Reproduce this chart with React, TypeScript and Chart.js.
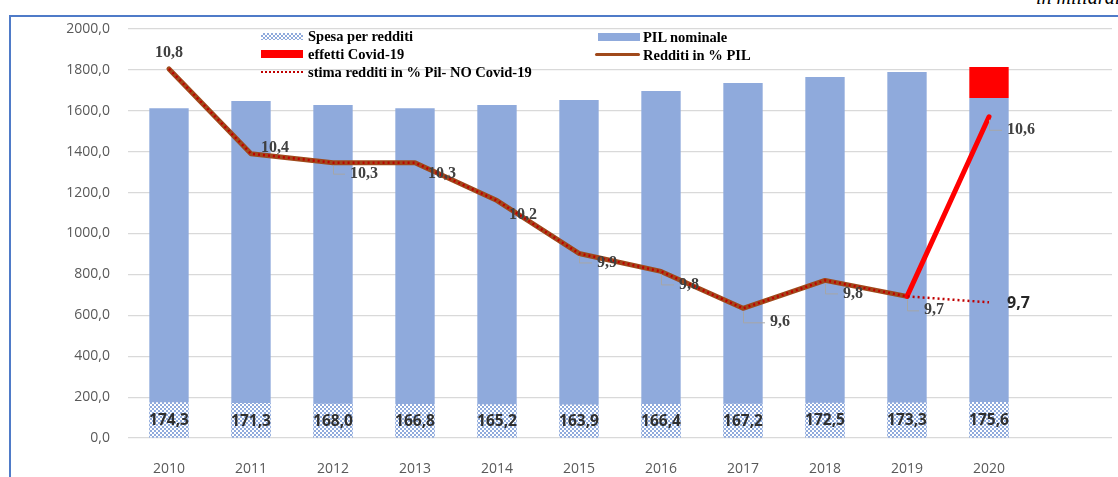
import React, { useEffect, useRef } from 'react';
import { Chart, registerables } from 'chart.js';

Chart.register(...registerables);

// ---------- data ----------
const years = ['2010', '2011', '2012', '2013', '2014', '2015', '2016', '2017', '2018', '2019', '2020', ''];
const pilNominale = [1613, 1648, 1628, 1613, 1628, 1653, 1697, 1736, 1765, 1790, 1663];
const effettiCovid = [0, 0, 0, 0, 0, 0, 0, 0, 0, 0, 151];
const spesaRedditi = [174.3, 171.3, 168.0, 166.8, 165.2, 163.9, 166.4, 167.2, 172.5, 173.3, 175.6];
const redditiPctPil = [10.8, 10.375, 10.33, 10.33, 10.14, 9.875, 9.785, 9.6, 9.74, 9.66, 10.56];
const redditiLabels = ['10,8', '10,4', '10,3', '10,3', '10,2', '9,9', '9,8', '9,6', '9,8', '9,7', '10,6'];
const stimaNoCovid2020 = 9.63;
const stimaLabel = '9,7';
const yTicks = [0, 200, 400, 600, 800, 1000, 1200, 1400, 1600, 1800, 2000];

// ---------- label layout (px offsets from point) ----------
const labelOffsets: [number, number, string, boolean][] = [
  [0, -16, 'center', false],
  [10, -6, 'left', false],
  [17, 11, 'left', true],
  [13, 11, 'left', false],
  [12, 14, 'left', false],
  [18, 9, 'left', true],
  [18, 13, 'left', true],
  [27, 14, 'left', true],
  [18, 13, 'left', true],
  [17, 14, 'left', true],
  [18, 13, 'left', true],
];

const BLUE = '#8FAADC';
const BROWN = '#A0491B';
const fmt = (v: number) => v.toFixed(1).replace('.', ',');

const labelPlugin = {
  id: 'customLabels',
  afterDatasetsDraw(chart: any) {
    const ctx = chart.ctx;
    ctx.save();
    // spesa labels
    const spesaMeta = chart.getDatasetMeta(2);
    ctx.font = 'bold 15.5px "Open Sans"';
    ctx.fillStyle = '#2F2F2F';
    ctx.textAlign = 'center';
    ctx.textBaseline = 'middle';
    spesaMeta.data.forEach((bar: any, i: number) => {
      const p = bar.getProps(['x', 'y', 'base'], true);
      ctx.fillText(fmt(spesaRedditi[i]), p.x, (p.y + p.base) / 2 + 1);
    });
    // line labels
    const lineMeta = chart.getDatasetMeta(1);
    ctx.font = 'bold 16px "Liberation Serif"';
    lineMeta.data.forEach((pt: any, i: number) => {
      const [dx, dy, align, leader] = labelOffsets[i];
      const lx = pt.x + dx;
      const ly = pt.y + dy;
      if (leader) {
        ctx.strokeStyle = '#A6A6A6';
        ctx.lineWidth = 1;
        ctx.beginPath();
        ctx.moveTo(pt.x + 0.5, pt.y + 3);
        ctx.lineTo(pt.x + 0.5, ly + 0.5);
        ctx.lineTo(lx - 5, ly + 0.5);
        ctx.stroke();
      }
      ctx.fillStyle = '#404040';
      ctx.textAlign = align;
      ctx.fillText(redditiLabels[i], lx, ly);
    });
    // stima label
    const stimaMeta = chart.getDatasetMeta(0);
    const last = stimaMeta.data[10];
    ctx.font = 'bold 16px "Open Sans"';
    ctx.fillStyle = '#262626';
    ctx.textAlign = 'left';
    ctx.fillText(stimaLabel, last.x + 18, last.y + 1);
    ctx.restore();
  },
};

export default function App() {
  const ref = useRef<HTMLCanvasElement>(null);

  useEffect(() => {
    const canvas = ref.current!;
    const pc = document.createElement('canvas');
    pc.width = 4;
    pc.height = 4;
    const g = pc.getContext('2d')!;
    g.fillStyle = '#ffffff';
    g.fillRect(0, 0, 4, 4);
    g.fillStyle = BLUE;
    g.fillRect(0, 0, 2, 2);
    g.fillRect(2, 2, 2, 2);
    const pattern = canvas.getContext('2d')!.createPattern(pc, 'repeat');

    const stima = redditiPctPil.slice(0, 10).concat([stimaNoCovid2020]);
    const covidFloating = pilNominale.map((p, i) => (effettiCovid[i] ? [p, p + effettiCovid[i]] : null));

    const chart = new Chart(canvas, {
      type: 'bar',
      data: {
        labels: years,
        datasets: [
          {
            type: 'line',
            label: 'stima redditi in % Pil- NO Covid-19',
            data: stima,
            yAxisID: 'y2',
            borderColor: '#C00000',
            borderWidth: 2.5,
            borderDash: [2, 3],
            pointRadius: 0,
            tension: 0,
            order: 0,
          } as any,
          {
            type: 'line',
            label: 'Redditi in % PIL',
            data: redditiPctPil,
            yAxisID: 'y2',
            borderColor: BROWN,
            borderWidth: 5,
            borderCapStyle: 'round',
            borderJoinStyle: 'round',
            pointRadius: 0,
            tension: 0,
            order: 1,
            segment: {
              borderColor: (c: any) => (c.p1DataIndex === 10 ? '#FF0000' : undefined),
            },
          } as any,
          {
            type: 'bar',
            label: 'Spesa per redditi',
            data: spesaRedditi,
            backgroundColor: pattern,
            stack: 's',
            order: 2,
            barPercentage: 0.48,
            categoryPercentage: 1,
          } as any,
          {
            type: 'bar',
            label: 'effetti Covid-19',
            data: covidFloating,
            backgroundColor: '#FF0000',
            stack: 's',
            order: 3,
            barPercentage: 0.48,
            categoryPercentage: 1,
          } as any,
          {
            type: 'bar',
            label: 'PIL nominale',
            data: pilNominale,
            backgroundColor: BLUE,
            stack: 's',
            order: 4,
            barPercentage: 0.48,
            categoryPercentage: 1,
          } as any,
        ],
      },
      options: {
        responsive: false,
        animation: false,
        layout: { padding: { top: 29, right: 6, left: 0, bottom: 0 } },
        plugins: { legend: { display: false }, tooltip: { enabled: false } },
        scales: {
          x: {
            stacked: true,
            grid: { display: false },
            border: { display: false },
            ticks: {
              color: '#595959',
              font: { family: 'Open Sans', size: 14 },
              padding: 15,
              maxRotation: 0,
              autoSkip: false,
            },
            afterFit: (s: any) => {
              s.height = 39;
            },
          },
          y: {
            stacked: false,
            min: 0,
            max: 2000,
            afterBuildTicks: (s: any) => {
              s.ticks = yTicks.map((v) => ({ value: v }));
            },
            ticks: {
              color: '#595959',
              font: { family: 'Open Sans', size: 14 },
              padding: 18,
              callback: (v: any) => fmt(Number(v)),
            },
            grid: { color: '#D9D9D9', drawTicks: false, lineWidth: 1.2 },
            border: { display: false },
            afterFit: (s: any) => {
              s.width = 128;
            },
          },
          y2: { display: false, min: 8.95, max: 11.0 },
        },
      } as any,
      plugins: [labelPlugin],
    });
    return () => chart.destroy();
  }, []);

  const legendText: React.CSSProperties = {
    position: 'absolute',
    font: 'bold 14.5px "Liberation Serif"',
    color: '#000',
    whiteSpace: 'nowrap',
    lineHeight: '16px',
  };

  return (
    <div style={{ position: 'fixed', left: 0, top: 0, width: 1118, height: 477, overflow: 'hidden', background: '#fff' }}>
      <div
        style={{
          position: 'absolute',
          left: 9,
          top: 15,
          width: 1300,
          height: 700,
          borderLeft: '2px solid #4F7BC8',
          borderTop: '2px solid #4F7BC8',
        }}
      />
      <div
        style={{
          position: 'absolute',
          left: 1036,
          top: -14,
          font: 'italic 20px "Liberation Serif"',
          color: '#000',
          whiteSpace: 'nowrap',
        }}
      >
        in miliardi
      </div>
      <canvas ref={ref} width={1118} height={477} style={{ position: 'absolute', left: 0, top: 0, display: 'block' }} />
      {/* legend */}
      <div
        style={{
          position: 'absolute',
          left: 261,
          top: 33,
          width: 42,
          height: 7,
          background: `repeating-conic-gradient(${BLUE} 0 25%, #fff 0 50%) 0 0/4px 4px`,
        }}
      />
      <div style={{ ...legendText, left: 308, top: 28 }}>Spesa per redditi</div>
      <div style={{ position: 'absolute', left: 261, top: 50, width: 42, height: 8, background: '#FF0000' }} />
      <div style={{ ...legendText, left: 308, top: 46 }}>effetti Covid-19</div>
      <div style={{ position: 'absolute', left: 261, top: 71, width: 42, height: 0, borderTop: '2px dotted #C00000' }} />
      <div style={{ ...legendText, left: 308, top: 64 }}>stima redditi in % Pil- NO Covid-19</div>
      <div style={{ position: 'absolute', left: 598, top: 33, width: 42, height: 8, background: BLUE }} />
      <div style={{ ...legendText, left: 643, top: 29 }}>PIL nominale</div>
      <div style={{ position: 'absolute', left: 595, top: 53, width: 45, height: 3, borderRadius: 2, background: BROWN }} />
      <div style={{ ...legendText, left: 643, top: 47 }}>Redditi in % PIL</div>
    </div>
  );
}
